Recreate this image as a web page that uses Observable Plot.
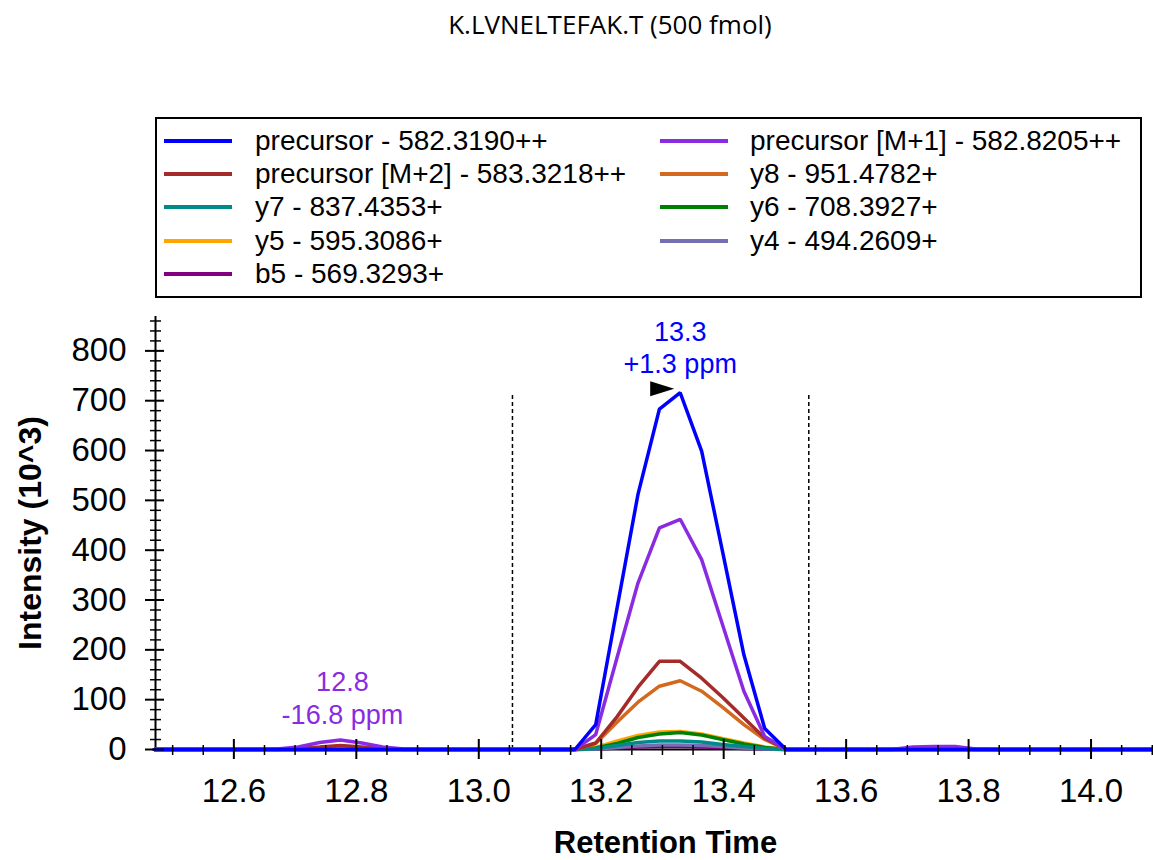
<!DOCTYPE html>
<html>
<head>
<meta charset="utf-8">
<script src="https://cdn.jsdelivr.net/npm/d3@7"></script>
<script src="https://cdn.jsdelivr.net/npm/@observablehq/plot@0.6"></script>
<style>
  html, body { margin: 0; padding: 0; background: #fff; overflow: hidden; }
  #wrap { position: relative; width: 1153px; height: 860px; background: #fff; font-family: "Liberation Sans", Arial, sans-serif; }
  #wrap svg { position: absolute; left: 0; top: 0; }
  #title { position: absolute; left: 360px; width: 500px; top: 9px; text-align: center; font-family: "Open Sans", sans-serif; font-size: 26px; line-height: 30px; color: #000; }
  #legendBox { position: absolute; left: 155px; top: 117px; width: 987px; height: 181px; box-sizing: border-box; border: 2px solid #000; background: #fff; }
  .lg-line { position: absolute; height: 4px; width: 68px; }
  .lg-text { position: absolute; font-size: 28px; line-height: 32px; white-space: nowrap; color: #000; }
</style>
</head>
<body>
<div id="wrap">
  <div id="title"></div>
  <div id="legendBox"></div>
</div>
<script>
// ---------- data ----------
const chartTitle = "K.LVNELTEFAK.T (500 fmol)";
const xLabel = "Retention Time";
const yLabel = "Intensity (10^3)";

const seriesNames = [
  "precursor - 582.3190++",
  "precursor [M+1] - 582.8205++",
  "precursor [M+2] - 583.3218++",
  "y8 - 951.4782+",
  "y7 - 837.4353+",
  "y6 - 708.3927+",
  "y5 - 595.3086+",
  "y4 - 494.2609+",
  "b5 - 569.3293+"
];
const seriesColors = ["#0000ff", "#8a2be2", "#a52a2a", "#d2691e", "#008b8b", "#008000", "#ffa500", "#7570b3", "#800080"];

const times = [12.47, 12.636, 12.671, 12.705, 12.740, 12.774, 12.809, 12.843, 12.878, 12.912,
               13.122, 13.157, 13.191, 13.226, 13.260, 13.295, 13.329, 13.364, 13.398, 13.433, 13.467, 13.502, 13.536,
               13.640, 13.674, 13.709, 13.743, 13.778, 13.812, 13.847, 14.10];

const precursor   = [0,0,0,0,0,0,0,0,0,0, 0,0,50,285,512,683,716,599,398,190,42,0,0, 0,0,0,0,0,0,0,0];
const precursorM1 = [0,0,1,5,14,19,13,5,1,0, 0,0,30,185,334,445,462,381,251,117,26,0,0, 0,0,5,6,6,1,0,0];
const precursorM2 = [0,0,0,2,5,8,5,2,0,0, 0,0,13,66,125,177,177,143,105,63,23,0,0, 0,0,1,2,2,0,0,0];
const y8 = [0,0,0,0,0,0,0,0,0,0, 0,0,12,55,95,127,138,117,85,50,20,0,0, 0,0,0,0,0,0,0,0];
const y7 = [0,0,0,0,0,0,0,0,0,0, 0,0,2,8,14,17,17,15,10,6,2,0,0, 0,0,0,0,0,0,0,0];
const y6 = [0,0,0,0,0,0,0,0,0,0, 0,0,3,12,24,31,34,29,20,11,4,0,0, 0,0,0,0,0,0,0,0];
const y5 = [0,0,0,0,0,0,0,0,0,0, 0,0,4,17,28,35,36,31,22,13,5,0,0, 0,0,0,0,0,0,0,0];
const y4 = [0,0,0,0,0,0,0,0,0,0, 0,0,1,4,7,9,9,8,6,3,1,0,0, 0,0,0,0,0,0,0,0];
const b5 = [0,0,0,0,0,0,0,0,0,0, 0,0,1,3,5,6,6,5,4,2,1,0,0, 0,0,0,0,0,0,0,0];
const seriesValues = [precursor, precursorM1, precursorM2, y8, y7, y6, y5, y4, b5];

// peak annotations
const annSeries = [0, 1];
const annTime = [13.329, 12.774];
const annRt = ["13.3", "12.8"];
const annPpm = ["+1.3 ppm", "-16.8 ppm"];

// integration boundaries
const boundaries = [13.055, 13.539];

// axes
const xDomain = [12.472, 14.102];
const yDomain = [0, 869];
const xMajor = [12.6, 12.8, 13.0, 13.2, 13.4, 13.6, 13.8, 14.0];
const xMinor = [12.5, 12.55, 12.65, 12.7, 12.75, 12.85, 12.9, 12.95, 13.05, 13.1, 13.15, 13.25, 13.3, 13.35,
                13.45, 13.5, 13.55, 13.65, 13.7, 13.75, 13.85, 13.9, 13.95, 14.05, 14.1];
const yMajor = [0, 100, 200, 300, 400, 500, 600, 700, 800];
const yMinor = [20, 40, 60, 80, 120, 140, 160, 180, 220, 240, 260, 280, 320, 340, 360, 380, 420, 440, 460, 480,
                520, 540, 560, 580, 620, 640, 660, 680, 720, 740, 760, 780, 820, 840, 860];

// ---------- build ----------
document.getElementById("title").textContent = chartTitle;

const rows = [];
for (let s = seriesNames.length - 1; s >= 0; s--) {
  seriesValues[s].forEach((v, j) => rows.push({series: seriesNames[s], t: times[j], v}));
}

const anns = annSeries.map((s, i) => {
  const j = times.indexOf(annTime[i]);
  return {t: annTime[i], v: seriesValues[s][j], color: seriesColors[s], text: annRt[i] + "\n" + annPpm[i]};
});
const peakMax = d3.max(precursor);
const bounds = boundaries.map(t => ({t, v: peakMax}));

const rightTriangle = {
  draw(context) {
    context.moveTo(-12, -7.5);
    context.lineTo(12, 0);
    context.lineTo(-12, 7.5);
    context.closePath();
  }
};

const chart = Plot.plot({
  width: 1153,
  height: 860,
  marginTop: 316,
  marginBottom: 111,
  marginLeft: 155,
  marginRight: 0,
  x: {domain: xDomain, axis: null},
  y: {domain: yDomain, axis: null},
  color: {domain: seriesNames, range: seriesColors},
  style: {fontFamily: "'Liberation Sans', Arial, sans-serif", background: "white", color: "black"},
  marks: [
    Plot.ruleX(bounds, {x: "t", y1: 0, y2: "v", stroke: "black", strokeWidth: 1.5, strokeDasharray: "4,3"}),
    Plot.ruleY([0], {stroke: "black", strokeWidth: 2}),
    Plot.ruleX([xDomain[0]], {stroke: "black", strokeWidth: 2}),
    Plot.line(rows, {x: "t", y: "v", z: "series", stroke: "series", strokeWidth: 3.5, strokeLinejoin: "miter"}),
    // x axis ticks (crossing the axis line)
    Plot.axisX({ticks: xMajor, tickSize: 20, dy: -10, tickFormat: () => "", strokeWidth: 2, label: null}),
    Plot.axisX({ticks: xMinor, tickSize: 10, dy: -4, tickFormat: () => "", strokeWidth: 1.5, label: null}),
    Plot.axisX({ticks: xMajor, tickSize: 0, tickPadding: 29, tickFormat: d3.format(".1f"), fontSize: 33, label: null}),
    // y axis ticks
    Plot.axisY({ticks: yMajor, tickSize: 19, dx: 9, tickFormat: () => "", strokeWidth: 2, label: null}),
    Plot.axisY({ticks: yMinor, tickSize: 11, dx: 6, tickFormat: () => "", strokeWidth: 1.5, label: null}),
    Plot.axisY({ticks: yMajor, tickSize: 0, tickPadding: 29, fontSize: 33, label: null}),
    // axis titles
    Plot.text([xLabel], {frameAnchor: "bottom", dy: 94, dx: 11, fontSize: 31, fontWeight: "bold", lineAnchor: "middle", textAnchor: "middle"}),
    Plot.text([yLabel], {frameAnchor: "left", dx: -125, rotate: -90, fontSize: 32, fontWeight: "bold", lineAnchor: "middle", textAnchor: "middle"}),
    // peak annotations
    Plot.dot([anns[0]], {x: "t", y: "v", symbol: rightTriangle, fill: "black", stroke: "none", dx: -18, dy: -4}),
    Plot.text([anns[0]], {x: "t", y: "v", text: "text", fill: "color", fontSize: 27, lineHeight: 1.17, lineAnchor: "middle", dy: -46}),
    Plot.text([anns[1]], {x: "t", y: "v", text: "text", fill: "color", fontSize: 27, lineHeight: 1.2, lineAnchor: "middle", dy: -43, dx: 2})
  ]
});
document.getElementById("wrap").insertBefore(chart, document.getElementById("title"));

// legend
const wrap = document.getElementById("wrap");
seriesNames.forEach((name, i) => {
  const col = i % 2, row = Math.floor(i / 2);
  const cy = 140.7 + 33.3 * row;
  const lineX = col === 0 ? 164 : 660;
  const textX = col === 0 ? 255 : 750;
  const ln = document.createElement("div");
  ln.className = "lg-line";
  ln.style.left = lineX + "px";
  ln.style.top = (cy - 2) + "px";
  ln.style.background = seriesColors[i];
  wrap.appendChild(ln);
  const tx = document.createElement("div");
  tx.className = "lg-text";
  tx.style.left = textX + "px";
  tx.style.top = (cy - 16) + "px";
  tx.textContent = name;
  wrap.appendChild(tx);
});
</script>
</body>
</html>
